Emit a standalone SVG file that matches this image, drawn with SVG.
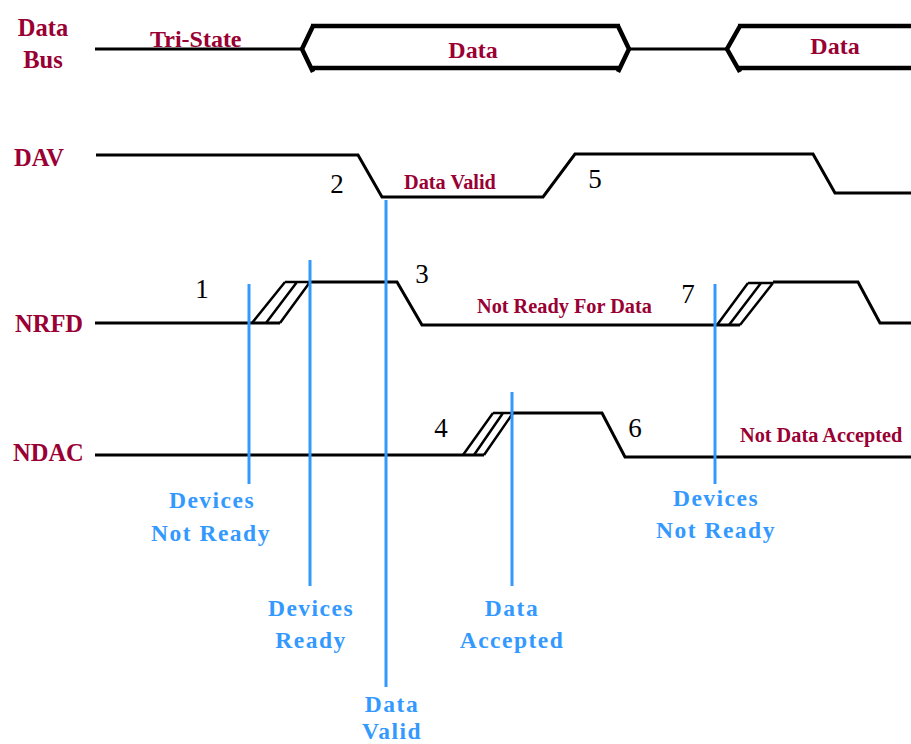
<svg xmlns="http://www.w3.org/2000/svg" width="911" height="744" viewBox="0 0 911 744">
  <style>
    .sig { fill: none; stroke: #000; stroke-width: 3; stroke-linejoin: miter; }
    .bus { fill: none; stroke: #000; stroke-width: 4.5; }
    .hatch { fill: none; stroke: #000; stroke-width: 2.5; }
    .marker { stroke: #3399ff; stroke-width: 3; }
    .name { font-family: "Liberation Serif", serif; font-weight: bold; font-size: 24.5px; fill: #990033; }
    .bustext { font-family: "Liberation Serif", serif; font-weight: bold; font-size: 24px; fill: #990033; }
    .state { font-family: "Liberation Serif", serif; font-weight: bold; font-size: 20.3px; fill: #990033; }
    .step { font-family: "Liberation Serif", serif; font-size: 27px; fill: #000; text-anchor: middle; }
    .note { font-family: "Liberation Serif", serif; font-weight: bold; font-size: 23.5px; letter-spacing: 1.5px; fill: #3399ff; text-anchor: middle; }
  </style>

  <!-- Signal names -->
  <g id="label-databus">
    <text class="name" x="43" y="36" text-anchor="middle">Data</text>
    <text class="name" x="43" y="68" text-anchor="middle">Bus</text>
  </g>
  <g id="label-dav"><text class="name" x="14" y="166">DAV</text></g>
  <g id="label-nrfd"><text class="name" x="15" y="332">NRFD</text></g>
  <g id="label-ndac"><text class="name" x="13" y="461">NDAC</text></g>

  <!-- Data bus waveform -->
  <g id="databus">
    <line class="sig" x1="95" y1="49" x2="302" y2="49"/>
    <line class="sig" x1="629" y1="49" x2="727" y2="49"/>
    <path class="bus" d="M313,26 L302,49 L313,72 M311,68 H620 M618,72 L629,49 L618,26 M311,26 H620"/>
    <path class="bus" d="M740,26 L727,49 L740,72 M738,26 H911 M738,68 H911"/>
    <text class="bustext" x="150" y="47">Tri-State</text>
    <text class="bustext" x="473" y="58" text-anchor="middle">Data</text>
    <text class="bustext" x="835" y="54" text-anchor="middle">Data</text>
  </g>

  <!-- DAV waveform -->
  <g id="dav">
    <polyline class="sig" points="96,155 358,155 382,197 543,197 575,154 813,154 835,193 911,193"/>
    <text class="state" x="404" y="189">Data Valid</text>
  </g>

  <!-- NRFD waveform -->
  <g id="nrfd">
    <polyline class="sig" points="95,323 280,323"/>
    <path class="hatch" d="M252,323 L285,282 M266,323 L297,282 M280,323 L310,282 M285,282 H310"/>
    <polyline class="sig" points="310,282 397,282 422,325 715,325 740,325"/>
    <path class="hatch" d="M717,325 L748,283 M729,325 L761,283 M740,325 L773,283 M748,283 H773"/>
    <polyline class="sig" points="773,282 858,282 880,323 911,323"/>
    <text class="state" x="477" y="313">Not Ready For Data</text>
  </g>

  <!-- NDAC waveform -->
  <g id="ndac">
    <polyline class="sig" points="95,455 484,455"/>
    <path class="hatch" d="M463,455 L493,413 M474,455 L503,413 M484,455 L513,413 M493,413 H513"/>
    <polyline class="sig" points="513,413 602,413 625,457 911,457"/>
    <text class="state" x="740" y="442">Not Data Accepted</text>
  </g>

  <!-- Step numbers -->
  <g id="steps">
    <text class="step" x="202" y="298">1</text>
    <text class="step" x="337" y="193">2</text>
    <text class="step" x="422" y="283">3</text>
    <text class="step" x="441" y="437">4</text>
    <text class="step" x="595" y="188">5</text>
    <text class="step" x="635" y="437">6</text>
    <text class="step" x="688" y="303">7</text>
  </g>

  <!-- Event markers -->
  <g id="connectors">
    <line class="marker" x1="249" y1="284" x2="249" y2="484"/>
    <line class="marker" x1="310" y1="260" x2="310" y2="586"/>
    <line class="marker" x1="386" y1="200" x2="386" y2="687"/>
    <line class="marker" x1="512" y1="392" x2="512" y2="586"/>
    <line class="marker" x1="715" y1="284" x2="715" y2="484"/>
  </g>

  <g id="note-not-ready-1">
    <text class="note" x="212" y="508">Devices</text>
    <text class="note" x="211" y="541">Not Ready</text>
  </g>
  <g id="note-ready">
    <text class="note" x="311" y="616">Devices</text>
    <text class="note" x="311" y="648">Ready</text>
  </g>
  <g id="note-data-valid">
    <text class="note" x="392" y="712">Data</text>
    <text class="note" x="392" y="739">Valid</text>
  </g>
  <g id="note-accepted">
    <text class="note" x="512" y="616">Data</text>
    <text class="note" x="512" y="648">Accepted</text>
  </g>
  <g id="note-not-ready-2">
    <text class="note" x="716" y="506">Devices</text>
    <text class="note" x="716" y="538">Not Ready</text>
  </g>
</svg>
